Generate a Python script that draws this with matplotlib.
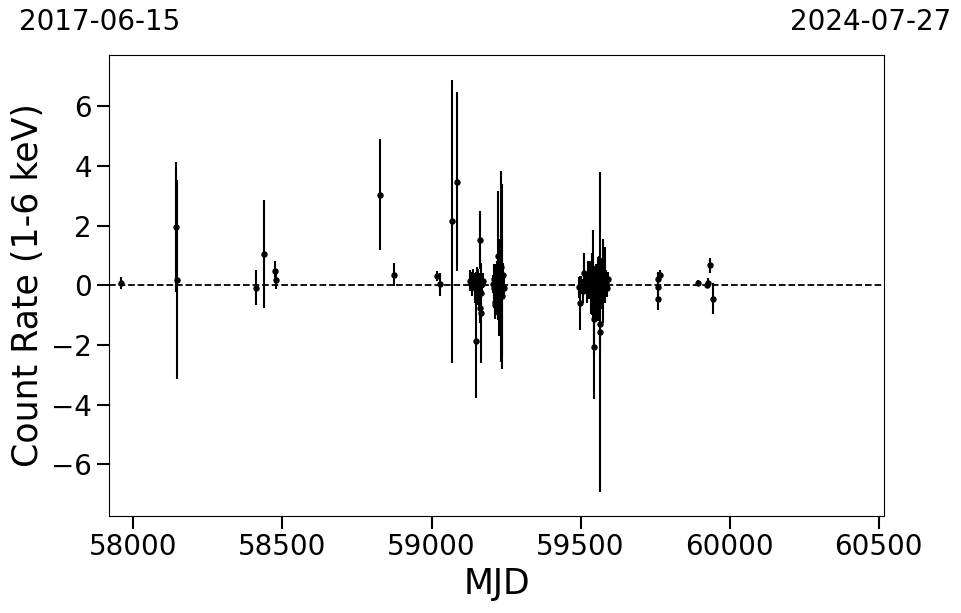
import numpy as np
import matplotlib
matplotlib.use('Agg')
import matplotlib.pyplot as plt

# light curve points: MJD, count rate (1-6 keV), 1-sigma error
mjd = [57959, 58144, 58147, 58411, 58438, 58476, 58479, 58828, 58873,
       59019, 59030, 59070, 59084,
       # first cluster
       59128, 59135, 59140, 59145, 59148, 59150, 59153, 59156, 59158, 59160,
       59162, 59164, 59165, 59167, 59170, 59172,
       # second cluster
       59205, 59208, 59210, 59212, 59214, 59216, 59218, 59220, 59222, 59223,
       59225, 59226, 59228, 59230, 59232, 59234, 59235, 59236, 59240, 59242,
       # third cluster
       59495, 59499, 59502, 59507, 59512, 59517, 59522, 59526, 59529, 59532,
       59535, 59538, 59540, 59542, 59544, 59544, 59547, 59549, 59552, 59554,
       59557, 59560, 59562, 59564, 59566, 59567, 59569, 59572, 59574, 59577,
       59580, 59582, 59585, 59588, 59592,
       # late points
       59759, 59760, 59761, 59765, 59894, 59925, 59929, 59935, 59944]

rate = [0.09, 1.95, 0.19, -0.08, 1.06, 0.49, 0.19, 3.04, 0.36,
        0.30, 0.03, 2.14, 3.48,
        0.15, 0.05, 0.25, -0.10, -1.88, 0.10, 0.20, -0.05, 0.10, -0.20,
        -0.75, 1.51, -0.93, -0.25, 0.05, 0.15,
        0.05, -0.10, 0.20, -0.56, -0.67, 0.10, -0.20, 0.30, 1.00, -0.10,
        0.15, -0.30, 0.05, -0.05, 0.63, 0.20, 0.30, -0.35, 0.36, -0.10,
        -0.06, -0.59, 0.05, -0.20, 0.43, 0.10, -0.10, 0.20, 0.00, 0.30,
        -0.15, 0.10, -0.30, 0.35, -1.12, -2.07, 0.05, -0.25, 0.20, -0.40,
        0.10, 0.25, -0.10, -1.57, -1.29, 0.30, 0.00, -0.20, 0.15, 0.40,
        -0.05, 0.35, 0.10, -0.10, 0.20,
        -0.47, -0.06, 0.20, 0.36, 0.09, 0.00, 0.09, 0.67, -0.45]

err = [0.20, 2.17, 3.33, 0.59, 1.81, 0.31, 0.30, 1.85, 0.39,
       0.17, 0.37, 4.75, 3.00,
       0.35, 0.40, 0.30, 0.50, 1.90, 0.35, 0.40, 0.60, 0.30, 0.50,
       0.50, 0.97, 1.67, 0.40, 0.30, 0.25,
       0.30, 0.40, 0.50, 0.50, 0.45, 0.60, 0.80, 0.50, 2.15, 1.00,
       0.70, 1.40, 0.90, 1.60, 3.20, 1.20, 3.10, 2.00, 0.40, 0.30,
       0.35, 0.90, 0.25, 0.40, 0.67, 0.30, 0.50, 0.60, 0.45, 0.50,
       0.80, 1.00, 0.70, 1.50, 1.20, 1.73, 0.60, 0.90, 0.50, 0.80,
       0.40, 0.70, 1.10, 5.36, 0.90, 0.60, 0.50, 0.60, 1.40, 0.50,
       0.30, 0.95, 0.40, 0.30, 0.25,
       0.37, 0.30, 0.25, 0.15, 0.10, 0.10, 0.17, 0.26, 0.52]

date_start = '2017-06-15'
date_end = '2024-07-27'
mjd_start = 57919
mjd_end = 60518

fig = plt.figure(figsize=(9.62, 6.13), dpi=100)
ax = fig.add_axes([0.1136, 0.1582, 0.8053, 0.7521])

ax.errorbar(mjd, rate, yerr=err, fmt='o', color='k', ms=3.6,
            elinewidth=1.5, capsize=0)
ax.axhline(0, color='k', ls='--', lw=1.3)

ax.set_xlim(mjd_start, mjd_end)
ax.set_ylim(-7.73, 7.72)
ax.set_xticks([58000, 58500, 59000, 59500, 60000, 60500])
ax.set_yticks([-6, -4, -2, 0, 2, 4, 6])
ax.tick_params(axis='both', labelsize=20, length=9, width=1.5)

ax.set_xlabel('MJD', fontsize=25)
ax.set_ylabel('Count Rate (1-6 keV)', fontsize=25)

fig.text(100 / 962, 1 - 22 / 613, date_start, fontsize=20, ha='center', va='center')
fig.text(871 / 962, 1 - 22 / 613, date_end, fontsize=20, ha='center', va='center')

fig.savefig('out.png', dpi=100)
